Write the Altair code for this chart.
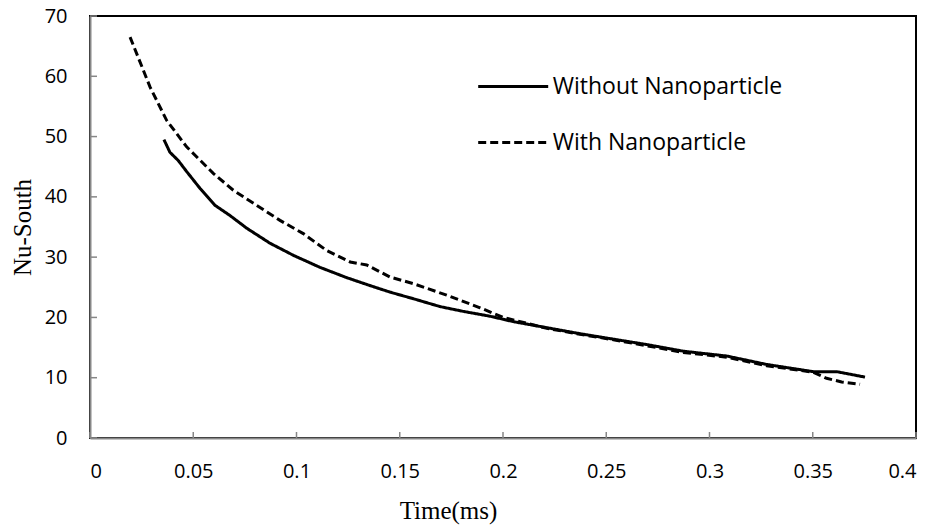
import altair as alt
import pandas as pd

series_names = ["Without Nanoparticle", "With Nanoparticle"]

t_without = [0.0358, 0.0387, 0.0428, 0.0468, 0.0533, 0.0605, 0.0678, 0.0759, 0.0872,
             0.0985, 0.1114, 0.1243, 0.1372, 0.1453, 0.1566, 0.1695, 0.1808, 0.1937,
             0.2050, 0.2212, 0.2373, 0.2534, 0.2696, 0.2873, 0.3083, 0.3277, 0.3503,
             0.3616, 0.3753]
nu_without = [49.5, 47.4, 46.0, 44.2, 41.4, 38.6, 36.9, 34.8, 32.3,
              30.3, 28.3, 26.6, 25.1, 24.2, 23.1, 21.8, 21.0, 20.2,
              19.3, 18.3, 17.3, 16.4, 15.5, 14.4, 13.6, 12.2, 11.0,
              11.0, 10.1]

t_with = [0.0194, 0.0291, 0.0371, 0.0468, 0.0597, 0.0694, 0.0807, 0.0920, 0.1033,
          0.1146, 0.1260, 0.1340, 0.1453, 0.1566, 0.1727, 0.1889, 0.2001, 0.2212,
          0.2373, 0.2534, 0.2696, 0.2873, 0.3083, 0.3277, 0.3503, 0.3567, 0.3640,
          0.3729]
nu_with = [66.5, 58.2, 52.7, 48.3, 43.9, 41.1, 38.6, 36.1, 33.9,
           31.1, 29.2, 28.7, 26.7, 25.6, 23.7, 21.6, 20.0, 18.2,
           17.2, 16.3, 15.3, 14.2, 13.4, 12.0, 10.9, 9.9, 9.3,
           8.9]

x_ticks = [0, 0.05, 0.1, 0.15, 0.2, 0.25, 0.3, 0.35, 0.4]
y_ticks = [0, 10, 20, 30, 40, 50, 60, 70]

df = pd.concat([
    pd.DataFrame({"t": t_without, "nu": nu_without, "series": series_names[0]}),
    pd.DataFrame({"t": t_with, "nu": nu_with, "series": series_names[1]}),
], ignore_index=True)

W, H = 826, 422
AXIS_GRAY = "#878787"

xscale = alt.Scale(domain=[0, 0.4], nice=False, zero=False)
yscale = alt.Scale(domain=[0, 70], nice=False, zero=False)

x_axis = alt.Axis(
    values=x_ticks, format="~g", title="Time(ms)",
    ticks=False, tickSize=0, labelPadding=23,
    labelFont="Open Sans", labelFontSize=20, labelColor="black",
    domainColor=AXIS_GRAY, domainWidth=2, grid=False,
    titleFont="Liberation Serif", titleFontSize=25, titleFontWeight="normal",
    titleColor="black", titleX=358, titleY=80.5, titleBaseline="alphabetic",
)
y_axis = alt.Axis(
    values=y_ticks, title="Nu-South",
    ticks=False, tickSize=0, labelPadding=23,
    labelFont="Open Sans", labelFontSize=20, labelColor="black",
    domainColor=AXIS_GRAY, domainWidth=2, grid=False,
    titleFont="Liberation Serif", titleFontSize=25, titleFontWeight="normal",
    titleColor="black", titleX=-59.5, titleY=H / 2, titleBaseline="alphabetic",
)

lines = alt.Chart(df).mark_line(strokeWidth=3, color="black", strokeCap="butt").encode(
    x=alt.X("t:Q", scale=xscale, axis=x_axis, title="Time(ms)"),
    y=alt.Y("nu:Q", scale=yscale, axis=y_axis, title="Nu-South"),
    strokeDash=alt.StrokeDash("series:N", scale=alt.Scale(domain=series_names, range=[[1, 0], [8, 4]]),
        legend=alt.Legend(
            orient="none", legendX=386.7, legendY=34, title=None, padding=0,
            symbolType="stroke", symbolSize=4900, symbolStrokeWidth=3,
            symbolStrokeColor="black", symbolFillColor="transparent",
            labelFont="Open Sans", labelFontSize=23, labelColor="black",
            labelOffset=3, rowPadding=7, labelLimit=500,
        )),
)

xt = pd.DataFrame({"v": x_ticks})
yt = pd.DataFrame({"v": y_ticks})

xtick_marks = alt.Chart(xt).mark_rule(color=AXIS_GRAY, strokeWidth=1.5).encode(
    x=alt.X("v:Q", scale=xscale, axis=x_axis, title="Time(ms)"),
    y=alt.value(H), y2=alt.value(H - 6),
)
ytick_marks = alt.Chart(yt).mark_rule(color=AXIS_GRAY, strokeWidth=1.5).encode(
    y=alt.Y("v:Q", scale=yscale, axis=y_axis, title="Nu-South"),
    x=alt.value(0), x2=alt.value(7),
)

chart = alt.layer(lines, xtick_marks, ytick_marks).properties(
    width=W, height=H,
    background="white",
    autosize=alt.AutoSizeParams(type="none"),
    padding={"left": 82, "top": 8, "right": 10, "bottom": 90},
).configure_view(stroke="black", strokeWidth=2)

chart.save("out.html", embed_options={"renderer": "svg", "actions": False})
